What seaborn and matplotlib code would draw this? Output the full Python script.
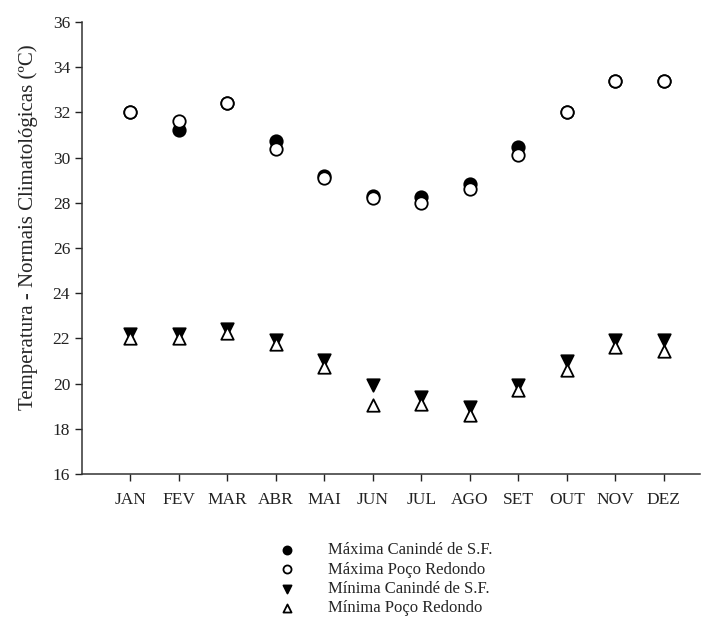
import matplotlib
matplotlib.use("Agg")
import matplotlib.pyplot as plt
import seaborn as sns
import pandas as pd

# dados
meses = ["JAN", "FEV", "MAR", "ABR", "MAI", "JUN", "JUL", "AGO", "SET", "OUT", "NOV", "DEZ"]
max_caninde = [32.0, 31.2, 32.4, 30.75, 29.2, 28.3, 28.25, 28.85, 30.45, 32.0, 33.4, 33.4]
max_poco = [32.0, 31.6, 32.4, 30.4, 29.1, 28.2, 28.0, 28.6, 30.1, 32.0, 33.4, 33.4]
min_caninde = [22.2, 22.2, 22.4, 21.95, 21.05, 19.95, 19.4, 18.95, 19.95, 21.0, 21.95, 21.95]
min_poco = [22.0, 22.0, 22.25, 21.75, 20.75, 19.05, 19.1, 18.6, 19.7, 20.6, 21.6, 21.45]

series = [
    ("Máxima Canindé de S.F.", max_caninde, "o", "black"),
    ("Máxima Poço Redondo", max_poco, "o", "white"),
    ("Mínima Canindé de S.F.", min_caninde, "v", "black"),
    ("Mínima Poço Redondo", min_poco, "^", "white"),
]

sns.set_style("ticks")
plt.rcParams["font.family"] = ["Liberation Serif", "DejaVu Serif"]

fig = plt.figure(figsize=(7.03, 6.44), dpi=100)
ax = fig.add_axes([82 / 703, 170 / 644, 618 / 703, 452 / 644])

x_pos = list(range(1, len(meses) + 1))
for nome, valores, marcador, cor in series:
    df = pd.DataFrame({"mes": x_pos, "temp": valores})
    sns.scatterplot(data=df, x="mes", y="temp", ax=ax, marker=marcador, s=80,
                    color=cor, edgecolor="black", linewidth=1.3, label=nome, zorder=3)

ax.set_xlim(0, 12.75)
ax.set_ylim(16, 36)
ax.set_yticks(range(16, 37, 2))
ax.set_xticks(x_pos)
ax.set_xticklabels(meses)
ax.set_xlabel("")
ax.set_ylabel("Temperatura - Normais Climatológicas (ºC)", fontsize=15)
ax.yaxis.set_label_coords(-0.071, 0.546)
ax.tick_params(axis="both", direction="out", length=5, width=1.0, labelsize=12.5, colors="#222222")
ax.tick_params(axis="x", pad=8)
for lado in ["top", "right"]:
    ax.spines[lado].set_visible(False)
for lado in ["left", "bottom"]:
    ax.spines[lado].set_linewidth(1.1)
    ax.spines[lado].set_color("#333333")

handles, labels = ax.get_legend_handles_labels()
ax.get_legend().remove()
leg = fig.legend(handles, labels, loc="upper left", bbox_to_anchor=(266 / 703, 1 - 534 / 644),
                 frameon=False, fontsize=12, markerscale=0.65, handletextpad=1.7,
                 labelspacing=0.2, borderpad=0, handlelength=1.5)

plt.savefig("out.png", dpi=100)
plt.close()
